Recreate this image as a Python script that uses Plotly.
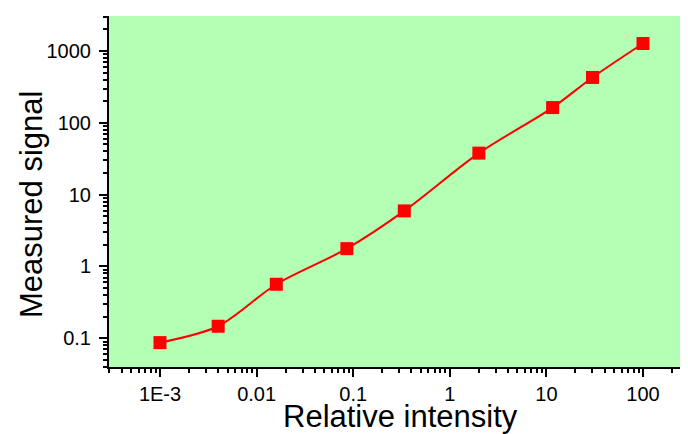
import plotly.graph_objects as go

# Data
intensity = [0.001, 0.004, 0.016, 0.086, 0.338, 2.0, 11.6, 30.0, 100.0]
signal = [0.087, 0.147, 0.565, 1.77, 5.93, 37.8, 163.0, 428.0, 1270.0]

x_tickvals = [0.001, 0.01, 0.1, 1, 10, 100]
x_ticktext = ["1E-3", "0.01", "0.1", "1", "10", "100"]
y_tickvals = [0.1, 1, 10, 100, 1000]
y_ticktext = ["0.1", "1", "10", "100", "1000"]

x_minor = [m * 10.0 ** e for e in range(-4, 3) for m in range(2, 10)]
y_minor = [m * 10.0 ** e for e in range(-2, 4) for m in range(2, 10)]

# page has an 8px body margin; compensate so the plot area lands where the reference has it
OFF = 8
W, H = 688 - OFF, 434 - OFF
L, R, T, B = 109 - OFF, 0, 16 - OFF, 67
pw, ph = W - L - R, H - T - B
plot_left_page, plot_bottom_page = 109, 367

fig = go.Figure()
fig.add_trace(go.Scatter(
    x=intensity, y=signal, mode="lines+markers",
    line=dict(color="#ff0000", width=2, shape="spline", smoothing=0.85),
    marker=dict(symbol="square", size=13, color="#ff0000", line=dict(width=0)),
    showlegend=False,
))

axis_common = dict(
    type="log", showgrid=False, zeroline=False,
    showline=True, linecolor="black", linewidth=2,
    ticks="outside", ticklen=8, tickwidth=1.5, tickcolor="black",
    tickfont=dict(family="Liberation Sans, Arial, sans-serif", size=20, color="black"),
    tickmode="array",
)

fig.update_xaxes(
    **axis_common,
    range=[-3.528, 2.466],
    tickvals=x_tickvals, ticktext=x_ticktext,
    minor=dict(tickmode="array", tickvals=x_minor, ticks="outside",
               ticklen=4, tickwidth=1.5, tickcolor="black", showgrid=False),
)
fig.update_yaxes(
    **axis_common,
    range=[-1.40, 3.487],
    tickvals=y_tickvals, ticktext=y_ticktext,
    ticklabelstandoff=4,
    minor=dict(tickmode="array", tickvals=y_minor, ticks="outside",
               ticklen=4, tickwidth=1.5, tickcolor="black", showgrid=False),
)

font_title = dict(family="Liberation Sans, Arial, sans-serif", size=31, color="black")
fig.add_annotation(
    text="Relative intensity", xref="paper", yref="paper",
    x=(400 - plot_left_page) / pw, y=(plot_bottom_page - 416) / ph,
    xanchor="center", yanchor="middle", showarrow=False, font=font_title,
)
fig.add_annotation(
    text="Measured signal", xref="paper", yref="paper",
    x=(31 - plot_left_page) / pw, y=(plot_bottom_page - 205) / ph, textangle=-90,
    xanchor="center", yanchor="middle", showarrow=False, font=font_title,
)

fig.update_layout(
    width=W, height=H,
    margin=dict(l=L, r=R, t=T, b=B),
    plot_bgcolor="#b3ffb3", paper_bgcolor="white",
)

fig.write_html("out.html")
